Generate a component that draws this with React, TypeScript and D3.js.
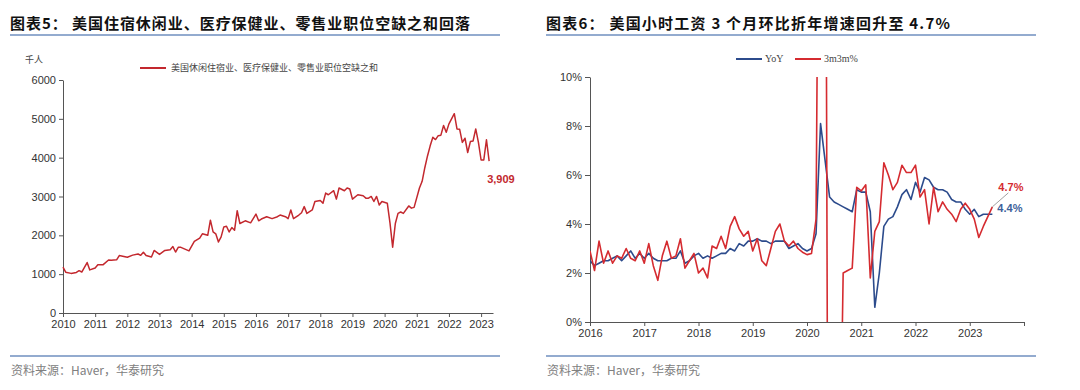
import React, { useRef, useEffect } from 'react';
import * as d3 from 'd3';

// 图表5: job openings (千人)
const jobDates = [
  '2010-01', '2010-02', '2010-04', '2010-06', '2010-07', '2010-08', '2010-10', '2010-11',
  '2011-01', '2011-02', '2011-04', '2011-06', '2011-07', '2011-09', '2011-10',
  '2012-01', '2012-03', '2012-05', '2012-06', '2012-07', '2012-08', '2012-10', '2012-11',
  '2013-01', '2013-03', '2013-05', '2013-06', '2013-07', '2013-08', '2013-09', '2013-12',
  '2014-02', '2014-04', '2014-05', '2014-07', '2014-08', '2014-09', '2014-10', '2014-11', '2014-12',
  '2015-01', '2015-02', '2015-03', '2015-04', '2015-05', '2015-06', '2015-07', '2015-09', '2015-11',
  '2016-01', '2016-02', '2016-03', '2016-05', '2016-07', '2016-09', '2016-10', '2016-12',
  '2017-01', '2017-02', '2017-03', '2017-05', '2017-06', '2017-07', '2017-08', '2017-10', '2017-11',
  '2018-01', '2018-02', '2018-03', '2018-04', '2018-06', '2018-07', '2018-08', '2018-10', '2018-11', '2018-12',
  '2019-01', '2019-03', '2019-05', '2019-06', '2019-07', '2019-08', '2019-09', '2019-10', '2019-11', '2019-12',
  '2020-02', '2020-03', '2020-04', '2020-05', '2020-06', '2020-07', '2020-08', '2020-10', '2020-11', '2020-12',
  '2021-02', '2021-03', '2021-04', '2021-05', '2021-06', '2021-07', '2021-08', '2021-09', '2021-10', '2021-11', '2021-12',
  '2022-01', '2022-03', '2022-04', '2022-05', '2022-06', '2022-07', '2022-08', '2022-09', '2022-10', '2022-11', '2022-12',
  '2023-01', '2023-02', '2023-03', '2023-04'
];
const jobValues = [
  1180, 1050, 1020, 1045, 1090, 1055, 1300, 1110,
  1160, 1240, 1245, 1365, 1360, 1370, 1480,
  1435, 1490, 1520, 1485, 1565, 1480, 1440, 1610,
  1510, 1610, 1630, 1710, 1570, 1690, 1690, 1600,
  1845, 1930, 2040, 2000, 2390, 2090, 2040, 1830, 1960,
  2217, 2235, 2087, 2200, 2130, 2635, 2305, 2374, 2322,
  2548, 2374, 2420, 2479, 2430, 2479, 2522, 2479,
  2430, 2653, 2430, 2522, 2583, 2739, 2566, 2653, 2870,
  2896, 2827, 3088, 3045, 3149, 2932, 3219, 3149, 3219, 3192,
  2932, 3045, 3018, 2958, 2958, 3001, 2871, 3001, 2783, 2870,
  2827, 2322, 1695, 2305, 2566, 2600, 2566, 2757, 2700, 2720,
  3219, 3392, 3741, 4044, 4305, 4524, 4466, 4566, 4580, 4827, 4653,
  4870, 5133, 4740, 4730, 4394, 4500, 4133, 4414, 4430, 4740, 4394,
  3940, 3940, 4462, 3909
];
const jobTicksY = [0, 1000, 2000, 3000, 4000, 5000, 6000];
const jobTicksX = d3.range(2010, 2024);

// 图表6: hourly earnings, monthly from 2016-01
const wageStart = 2016;
const wageYoY = [
  2.5, 2.3, 2.4, 2.5, 2.5, 2.6, 2.7, 2.5, 2.7, 2.9, 2.6, 2.8,
  2.6, 2.8, 2.6, 2.5, 2.5, 2.5, 2.6, 2.6, 2.9, 2.4, 2.5, 2.7,
  2.8, 2.6, 2.7, 2.6, 2.7, 2.8, 2.8, 3.0, 2.9, 3.2, 3.1, 3.3,
  3.3, 3.4, 3.3, 3.3, 3.2, 3.3, 3.3, 3.3, 3.0, 3.1, 3.2, 3.0,
  2.9, 3.0, 3.6, 8.1, 6.6, 5.1, 4.9, 4.8, 4.7, 4.6, 4.5, 5.4,
  5.3, 5.3, 4.5, 0.6, 2.0, 3.9, 4.2, 4.3, 4.7, 5.2, 5.4, 5.0,
  5.7, 5.3, 5.9, 5.8, 5.5, 5.4, 5.4, 5.3, 5.0, 4.9, 4.9, 4.6,
  4.4, 4.6, 4.3, 4.4, 4.4, 4.4
];
const wage3m3m = [
  2.9, 2.1, 3.3, 2.4, 2.9, 2.4, 2.7, 2.6, 3.0, 2.6, 2.5, 2.9,
  2.4, 3.2, 2.3, 1.7, 2.7, 3.3, 2.6, 2.7, 3.4, 2.2, 2.5, 2.8,
  2.0, 2.2, 1.8, 3.1, 3.0, 3.5, 3.0, 3.9, 4.3, 3.8, 3.5, 3.7,
  2.9, 3.4, 2.5, 2.3, 3.0, 3.7, 4.0, 3.3, 3.1, 3.3, 3.0, 2.85,
  2.75, 2.8, 4.2, 30, 28, -30, -20, -10, 2.0, 2.1, 2.2, 5.5,
  5.35, 5.6, 1.8, 3.7, 4.1, 6.5, 6.0, 5.4, 5.7, 6.4, 6.1, 6.1,
  6.4, 5.1, 5.4, 4.0, 5.5, 4.5, 4.9, 4.6, 4.4, 4.1, 4.6, 4.85,
  4.6, 4.2, 3.45, 3.9, 4.3, 4.7
];
const wageTicksY = [0, 2, 4, 6, 8, 10];
const wageTicksX = d3.range(2016, 2025);

const axisFont = '"Liberation Sans", Arial, sans-serif';
const cjkFont = '"Noto Sans CJK SC", sans-serif';

const App: React.FC = () => {
  const svgRef = useRef<SVGSVGElement>(null);

  useEffect(() => {
    const svg = d3.select(svgRef.current);
    svg.selectAll('*').remove();

    // titles, rules, sources
    const titles = [
      { x: 10, width: 460, text: '图表5：  美国住宿休闲业、医疗保健业、零售业职位空缺之和回落' },
      { x: 546, width: 404, text: '图表6：  美国小时工资 3 个月环比折年增速回升至 4.7%' }
    ];
    titles.forEach(t => {
      svg.append('text')
        .attr('x', t.x)
        .attr('y', 29)
        .attr('textLength', t.width)
        .attr('lengthAdjust', 'spacing')
        .style('font-family', cjkFont)
        .style('font-size', '15px')
        .style('font-weight', 'bold')
        .style('fill', '#111')
        .text(t.text);
      svg.append('line')
        .attr('x1', t.x).attr('x2', t.x + 490)
        .attr('y1', 35).attr('y2', 35)
        .attr('stroke', '#6F8FBF').attr('stroke-width', 1.5);
      svg.append('line')
        .attr('x1', t.x).attr('x2', t.x + 490)
        .attr('y1', 356).attr('y2', 356)
        .attr('stroke', '#6F8FBF').attr('stroke-width', 1.5);
      svg.append('text')
        .attr('x', t.x + 1)
        .attr('y', 375)
        .style('font-family', cjkFont)
        .style('font-size', '12px')
        .style('fill', '#808080')
        .text('资料来源：Haver，华泰研究');
    });

    const styleAxis = (g: d3.Selection<SVGGElement, unknown, null, undefined>) => {
      g.select('.domain').attr('stroke', '#555');
      g.selectAll('.tick line').attr('stroke', '#555');
      g.selectAll('.tick text')
        .style('font-family', axisFont)
        .style('font-size', '11px')
        .style('fill', '#333');
    };

    // ---------- left chart ----------
    const parseYM = (s: string) => {
      const [y, m] = s.split('-').map(Number);
      return y + (m - 1) / 12;
    };
    const jobData = jobDates.map((d, i) => ({ t: parseYM(d), v: jobValues[i] }));

    const xL = d3.scaleLinear().domain([2010, 2023.37]).range([63, 493]);
    const yL = d3.scaleLinear().domain([0, 6000]).range([313, 80]);

    svg.append('g')
      .attr('transform', 'translate(0,313)')
      .call(d3.axisBottom(xL).tickValues(jobTicksX).tickFormat(d3.format('d')).tickSize(4).tickSizeOuter(0))
      .call(styleAxis);
    svg.append('g')
      .attr('transform', 'translate(63,0)')
      .call(d3.axisLeft(yL).tickValues(jobTicksY).tickFormat(d3.format('d')).tickSize(4).tickSizeOuter(0))
      .call(styleAxis);

    svg.append('text')
      .attr('x', 25).attr('y', 63)
      .style('font-family', cjkFont).style('font-size', '9px').style('fill', '#444')
      .text('千人');

    const jobLine = d3.line<{ t: number; v: number }>()
      .x(d => xL(d.t))
      .y(d => yL(d.v));
    svg.append('path')
      .datum(jobData)
      .attr('fill', 'none')
      .attr('stroke', '#C3282E')
      .attr('stroke-width', 1.5)
      .attr('stroke-linejoin', 'round')
      .attr('d', jobLine);

    const lastJob = jobData[jobData.length - 1];
    svg.append('text')
      .attr('x', xL(lastJob.t) - 2)
      .attr('y', yL(lastJob.v) + 22)
      .style('font-family', axisFont).style('font-size', '11px').style('font-weight', 'bold')
      .style('fill', '#C3282E')
      .text(d3.format(',')(lastJob.v));

    // legend
    svg.append('line')
      .attr('x1', 140).attr('x2', 166).attr('y1', 68).attr('y2', 68)
      .attr('stroke', '#C3282E').attr('stroke-width', 2);
    svg.append('text')
      .attr('x', 171).attr('y', 71)
      .style('font-family', cjkFont).style('font-size', '9px').style('fill', '#444')
      .text('美国休闲住宿业、医疗保健业、零售业职位空缺之和');

    // ---------- right chart ----------
    const xR = d3.scaleLinear().domain([2016, 2024]).range([590, 1024]);
    const yR = d3.scaleLinear().domain([0, 10]).range([322, 77]);

    svg.append('g')
      .attr('transform', 'translate(0,322)')
      .call(d3.axisBottom(xR).tickValues(wageTicksX)
        .tickFormat(d => (+d < 2024 ? String(d) : '')).tickSize(4).tickSizeOuter(0))
      .call(styleAxis);
    svg.append('g')
      .attr('transform', 'translate(590,0)')
      .call(d3.axisLeft(yR).tickValues(wageTicksY).tickFormat(d => `${d}%`).tickSize(5).tickSizeOuter(0))
      .call(styleAxis);

    const clipId = 'wage-clip';
    svg.append('clipPath').attr('id', clipId)
      .append('rect')
      .attr('x', 590).attr('y', 77).attr('width', 440).attr('height', 245);

    const wageLine = d3.line<number>()
      .x((_, i) => xR(wageStart + i / 12))
      .y(d => yR(d));

    const plot = svg.append('g').attr('clip-path', `url(#${clipId})`);
    plot.append('path')
      .datum(wageYoY)
      .attr('fill', 'none').attr('stroke', '#2C4B8C').attr('stroke-width', 1.6)
      .attr('stroke-linejoin', 'round')
      .attr('d', wageLine);
    plot.append('path')
      .datum(wage3m3m)
      .attr('fill', 'none').attr('stroke', '#D52B30').attr('stroke-width', 1.6)
      .attr('stroke-linejoin', 'round')
      .attr('d', wageLine);

    // end labels
    const lastIdx = wage3m3m.length - 1;
    const endX = xR(wageStart + lastIdx / 12);
    svg.append('line')
      .attr('x1', endX).attr('y1', yR(wage3m3m[lastIdx]))
      .attr('x2', endX + 16).attr('y2', yR(wage3m3m[lastIdx]) - 14)
      .attr('stroke', '#888').attr('stroke-width', 0.8);
    svg.append('text')
      .attr('x', endX + 6).attr('y', 191)
      .style('font-family', axisFont).style('font-size', '11px').style('font-weight', 'bold')
      .style('fill', '#D52B30')
      .text(`${wage3m3m[lastIdx]}%`);
    svg.append('text')
      .attr('x', endX + 5).attr('y', 212)
      .style('font-family', axisFont).style('font-size', '11px').style('font-weight', 'bold')
      .style('fill', '#3D5F9A')
      .text(`${wageYoY[lastIdx]}%`);

    // legend
    const legend = [
      { x: 736, color: '#2C4B8C', label: 'YoY' },
      { x: 795, color: '#D52B30', label: '3m3m%' }
    ];
    legend.forEach(l => {
      svg.append('line')
        .attr('x1', l.x).attr('x2', l.x + 26).attr('y1', 59).attr('y2', 59)
        .attr('stroke', l.color).attr('stroke-width', 2);
      svg.append('text')
        .attr('x', l.x + 29).attr('y', 62)
        .style('font-family', '"Liberation Serif", serif').style('font-size', '10px').style('fill', '#444')
        .text(l.label);
    });
  }, []);

  return (
    <svg
      ref={svgRef}
      width={1080}
      height={390}
      style={{ position: 'absolute', left: 0, top: 0, background: '#fff' }}
    />
  );
};

export default App;
